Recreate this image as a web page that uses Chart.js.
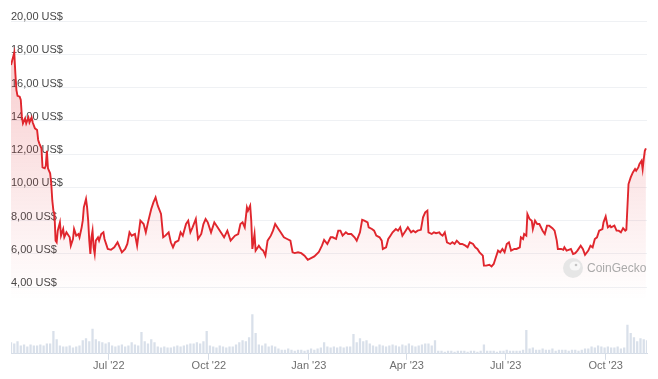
<!DOCTYPE html>
<html>
<head>
<meta charset="utf-8">
<script src="https://cdn.jsdelivr.net/npm/chart.js@4.4.0/dist/chart.umd.min.js"></script>
<style>
  html, body { margin: 0; padding: 0; background: #fff; }
  #wrap { width: 658px; height: 379px; position: relative; }
</style>
</head>
<body>
<div id="wrap"><canvas id="priceChart"></canvas></div>
<script>
// days counted from 2 Apr 2022
const tickDays = [90, 182, 274, 364, 455, 547];
const tickLabels = ["Jul '22", "Oct '22", "Jan '23", "Apr '23", "Jul '23", "Oct '23"];
const lastDay = 585;

const priceDays = [
  0, 3, 4, 5, 6, 8, 9, 10, 11, 13,
  14, 16, 17, 19, 20, 22, 24, 25, 26, 28,
  29, 31, 32, 33, 34, 36, 37, 38, 39, 40,
  41, 42, 43, 45, 46, 48, 49, 51, 52, 54,
  55, 57, 58, 60, 62, 63, 65, 66, 67, 69,
  70, 71, 72, 73, 74, 75, 76, 77, 78, 80,
  81, 83, 85, 86, 88, 89, 92, 95, 98, 100,
  102, 105, 107, 109, 111, 114, 116, 119, 122, 124,
  126, 129, 131, 133, 135, 138, 140, 142, 145, 147,
  149, 151, 154, 156, 158, 161, 163, 165, 167, 170,
  172, 175, 177, 179, 181, 184, 187, 190, 193, 196,
  199, 202, 206, 209, 211, 213, 215, 217, 218, 220,
  221, 222, 224, 225, 228, 230, 232, 234, 236, 239,
  241, 243, 246, 248, 251, 254, 257, 259, 261, 264,
  267, 270, 273, 276, 279, 283, 286, 288, 291, 294,
  296, 299, 301, 303, 305, 308, 310, 313, 316, 318,
  321, 323, 325, 328, 329, 332, 334, 336, 339, 341,
  342, 345, 347, 349, 351, 354, 356, 358, 360, 363,
  365, 368, 370, 372, 374, 377, 379, 381, 383, 384,
  387, 389, 391, 394, 395, 397, 399, 401, 404, 406,
  408, 410, 413, 415, 418, 420, 422, 425, 427, 429,
  431, 434, 435, 437, 440, 442, 444, 446, 448, 450,
  452, 454, 456, 458, 460, 463, 465, 468, 469, 471,
  472, 474, 475, 477, 479, 480, 482, 484, 486, 489,
  491, 493, 495, 498, 500, 502, 503, 506, 508, 509,
  511, 513, 515, 517, 519, 521, 524, 526, 528, 531,
  533, 535, 537, 539, 541, 544, 545, 547, 549, 551,
  552, 555, 557, 559, 561, 563, 565, 566, 568, 570,
  572, 574, 575, 577, 578, 580, 581, 582, 583, 584
];

const prices = [
  17.35, 18.1, 16.85, 15.85, 15.5, 15.45, 15.25, 14.25, 13.85, 14.15,
  13.85, 14.2, 13.9, 14.2, 13.9, 13.55, 13.45, 12.85, 12.65, 12.35,
  11.2, 11.15, 11.3, 12.2, 11.15, 10.85, 10.25, 9.2, 8.6, 8.4,
  6.8, 6.7, 7.4, 7.9, 7.1, 7.5, 7.0, 7.3, 7.2, 7.0,
  6.5, 6.9, 7.5, 7.1, 7.2, 7.0, 7.6, 8.0, 8.8, 9.3,
  8.8, 8.0, 6.8, 6.0, 7.0, 7.4, 6.4, 6.0, 6.8, 7.0,
  6.8, 7.2, 7.3, 6.9, 6.5, 6.3, 6.25, 6.4, 6.7, 6.4,
  6.1, 6.3, 6.6, 7.3, 7.1, 7.2, 6.5, 8.0, 7.8, 7.3,
  7.9, 8.7, 9.1, 9.4, 8.9, 8.4, 7.0, 7.1, 7.3, 6.7,
  6.4, 6.7, 6.8, 7.3, 7.1, 7.8, 8.0, 7.3, 7.6, 8.1,
  6.9, 7.2, 7.8, 8.1, 7.9, 7.3, 7.9, 7.6, 7.3, 7.0,
  7.4, 6.8, 7.1, 7.2, 7.8, 7.9, 7.6, 8.8, 8.6, 8.9,
  8.0, 6.3, 7.2, 6.2, 6.5, 6.3, 6.2, 5.9, 6.8, 7.1,
  7.4, 7.8, 7.5, 7.3, 7.0, 6.9, 6.8, 6.1, 6.05, 6.1,
  6.05, 5.9, 5.65, 5.75, 5.85, 6.1, 6.5, 6.85, 6.6, 7.0,
  7.0, 6.9, 7.4, 7.4, 7.1, 7.3, 7.2, 7.2, 7.0, 6.8,
  7.3, 8.05, 8.0, 7.9, 7.6, 7.5, 7.4, 7.1, 7.0, 6.8,
  6.3, 6.4, 6.9, 7.1, 7.3, 7.5, 7.4, 7.6, 7.1, 7.4,
  7.6, 7.3, 7.4, 7.3, 7.4, 7.45, 8.2, 8.5, 8.6, 7.3,
  7.2, 7.3, 7.25, 7.3, 7.2, 7.1, 7.3, 6.7, 6.6, 6.7,
  6.6, 6.8, 6.6, 6.6, 6.5, 6.4, 6.7, 6.6, 6.4, 6.3,
  6.1, 5.9, 5.3, 5.3, 5.35, 5.25, 5.4, 5.8, 6.2, 6.1,
  6.3, 6.1, 6.6, 6.7, 6.2, 6.3, 6.3, 6.4, 7.0, 6.9,
  7.2, 7.1, 8.4, 8.1, 8.0, 7.5, 8.0, 7.8, 7.8, 7.4,
  7.2, 7.7, 7.7, 7.55, 7.4, 6.8, 6.3, 6.3, 6.25, 6.4,
  6.2, 6.25, 6.3, 6.0, 6.05, 6.2, 6.5, 6.3, 5.95, 6.2,
  6.5, 6.4, 6.9, 7.0, 7.4, 7.5, 7.9, 8.25, 7.6, 7.7,
  7.6, 7.7, 7.4, 7.4, 7.3, 7.55, 7.4, 7.45, 10.2, 10.6,
  10.9, 11.1, 11.0, 11.2, 11.4, 11.6, 11.1, 11.7, 12.2, 12.35
];

// traded volume, one bar every 3 days (relative units)
const volumeStep = 3;
const volumes = [
  11, 10, 12, 8, 9, 7, 9, 8, 8, 9,
  8, 10, 10, 22, 14, 8, 7, 7, 8, 6,
  7, 8, 13, 15, 12, 24, 14, 12, 11, 10,
  11, 8, 7, 8, 9, 7, 8, 11, 9, 8,
  21, 12, 10, 14, 11, 7, 6, 7, 6, 6,
  7, 8, 7, 8, 9, 10, 10, 11, 10, 12,
  22, 8, 7, 6, 8, 7, 6, 7, 7, 9,
  11, 13, 12, 16, 38, 20, 9, 8, 10, 7,
  8, 7, 5, 4, 4, 5, 4, 3, 4, 4,
  3, 4, 5, 4, 5, 6, 11, 7, 6, 7,
  6, 7, 6, 7, 7, 19, 11, 15, 12, 13,
  10, 8, 7, 9, 8, 7, 8, 9, 8, 7,
  9, 8, 10, 8, 7, 8, 9, 10, 10, 8,
  13, 3, 3, 2, 3, 3, 2, 3, 3, 3,
  2, 3, 3, 2, 3, 9, 3, 3, 3, 2,
  3, 3, 4, 3, 3, 3, 3, 4, 23, 5,
  6, 4, 4, 5, 4, 4, 5, 3, 4, 4,
  4, 3, 4, 4, 3, 4, 5, 5, 7, 6,
  8, 7, 6, 7, 6, 6, 7, 5, 6, 28,
  20, 16, 12, 15, 14, 13
];

const lineRed = '#e0262d';

// CoinGecko watermark in the lower right corner
const watermark = {
  id: 'watermark',
  afterDraw(chart) {
    const c = chart.ctx;
    c.save();
    c.fillStyle = '#e6e6e6';
    c.beginPath();
    c.arc(573, 268, 10, 0, Math.PI * 2);
    c.fill();
    c.fillStyle = '#f7f7f7';
    c.beginPath();
    c.ellipse(575, 266, 5.5, 4.5, 0, 0, Math.PI * 2);
    c.fill();
    c.fillStyle = '#c4c4c4';
    c.beginPath();
    c.arc(576, 265, 1.3, 0, Math.PI * 2);
    c.fill();
    c.fillStyle = '#aaaaaa';
    c.font = '12px "Liberation Sans", Arial, sans-serif';
    c.textBaseline = 'middle';
    c.fillText('CoinGecko', 587, 269);
    c.restore();
  }
};

const ctx = document.getElementById('priceChart');

new Chart(ctx, {
  data: {
    datasets: [{
      type: 'line',
      label: 'Price',
      data: priceDays.map((d, i) => ({ x: d, y: prices[i] })),
      borderColor: lineRed,
      borderWidth: 1.9,
      pointRadius: 0,
      tension: 0,
      fill: 'start',
      backgroundColor: (context) => {
        const area = context.chart.chartArea;
        if (!area) return 'rgba(224,38,45,0.1)';
        const g = context.chart.ctx.createLinearGradient(0, area.top, 0, 300);
        g.addColorStop(0, 'rgba(224,38,45,0.26)');
        g.addColorStop(0.85, 'rgba(224,38,45,0.04)');
        g.addColorStop(1, 'rgba(224,38,45,0)');
        return g;
      },
      yAxisID: 'y',
      order: 0
    }, {
      type: 'bar',
      label: 'Volume',
      data: volumes.map((v, i) => ({ x: i * volumeStep, y: v })),
      backgroundColor: '#d9e0ea',
      barPercentage: 0.7,
      categoryPercentage: 1,
      yAxisID: 'yv',
      order: 1
    }]
  },
  options: {
    responsive: true,
    maintainAspectRatio: false,
    animation: false,
    layout: { padding: { left: 11, right: 11, top: 21, bottom: 6 } },
    plugins: {
      legend: { display: false },
      tooltip: { enabled: false }
    },
    scales: {
      x: {
        type: 'linear',
        offset: false,
        min: 0,
        max: lastDay,
        afterBuildTicks: (axis) => {
          axis.ticks = tickDays.map(v => ({ value: v }));
        },
        ticks: {
          autoSkip: false,
          maxRotation: 0,
          padding: 0,
          color: '#6f6f6f',
          font: { size: 11, family: '"Liberation Sans", Arial, sans-serif' },
          callback: (value) => tickLabels[tickDays.indexOf(value)]
        },
        grid: {
          offset: false,
          drawOnChartArea: false,
          drawTicks: true,
          tickLength: 6,
          color: '#d5dce6'
        },
        border: { display: true, color: '#d5dce6' }
      },
      y: {
        position: 'left',
        min: 0,
        max: 20,
        ticks: {
          stepSize: 2,
          mirror: true,
          padding: 0,
          labelOffset: -4,
          color: '#474747',
          font: { size: 11, family: '"Liberation Sans", Arial, sans-serif' },
          callback: (value) => value >= 4 ? value.toFixed(2).replace('.', ',') + ' US$' : ''
        },
        grid: {
          drawTicks: false,
          color: (c) => c.tick && c.tick.value >= 4 ? '#eff1f4' : 'rgba(0,0,0,0)'
        },
        border: { display: false }
      },
      yv: {
        display: false,
        min: 0,
        max: 320
      }
    }
  },
  plugins: [watermark]
});
</script>
</body>
</html>
